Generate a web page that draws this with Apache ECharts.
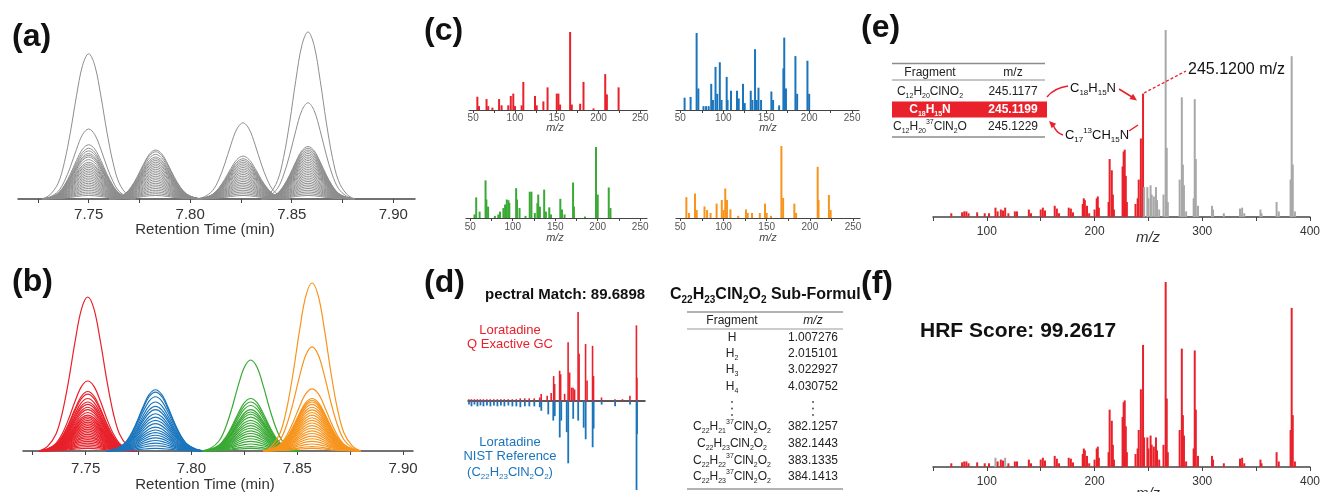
<!DOCTYPE html>
<html>
<head>
<meta charset="utf-8">
<script src="https://cdn.jsdelivr.net/npm/echarts@6/dist/echarts.min.js"></script>
<style>
html,body{margin:0;padding:0;background:#fff;}
#chart{width:1323px;height:492px;}
</style>
</head>
<body>
<div id="chart"></div>
<script>
// colours
var red = '#e8212b', blue = '#1b75bc', green = '#3aa935', orange = '#f7941d';
var grayTrace = '#8e8e8e', grayBar = '#a8a8a8';
var FONT = 'Liberation Sans';

// ---- (a)/(b) chromatograms ----
var rtTicks = [7.725, 7.75, 7.775, 7.80, 7.825, 7.85, 7.875, 7.90];
var rtLabels = [7.75, 7.80, 7.85, 7.90];
// peak shape (offset in min, relative height)
var peakOffsets = [-0.023, -0.019, -0.015, -0.012, -0.009, -0.006, -0.003, 0, 0.003, 0.006, 0.009, 0.012, 0.015, 0.019, 0.023];
var peakShape = [0, 0.03, 0.11, 0.25, 0.46, 0.71, 0.92, 1, 0.92, 0.71, 0.46, 0.25, 0.11, 0.03, 0];
// (a) raw, apex times and trace heights
var aCenters = [7.750, 7.783, 7.826, 7.858];
var aPeak1 = [83, 40, 31, 29, 27.5, 26, 25, 24, 22.5, 21, 20, 19, 18, 17, 16, 15, 14, 13, 12, 11, 10, 9, 8, 7, 6, 5, 4, 3, 2];
var aPeak2 = [28, 27, 25.5, 24, 23, 22, 21, 20, 19, 18, 17, 16, 15, 14, 13, 12, 11, 10, 9, 8, 7, 6, 5, 4, 3, 2];
var aPeak3 = [43.5, 24.5, 23, 22, 21, 20, 19, 18, 17, 16, 15, 14, 13, 12, 11, 10, 9, 8, 7, 6, 5, 4, 3, 2];
var aPeak4 = [95.5, 55, 30, 29, 28, 27, 26, 25, 24, 23, 22, 21, 20, 19, 18, 17, 16, 15, 14, 13, 12, 11, 10, 9, 8, 7, 6, 5, 4, 3, 2];
// (b) deconvolved
var bCenters = [7.751, 7.783, 7.828, 7.857];
var bRed = [88, 40, 34, 32.5, 30, 28, 26.7, 25, 23.6, 22, 20.5, 19.5, 18.5, 17.5, 16.5, 15.5, 14.5, 13.5, 12.5, 11.5, 10.5, 9.5, 8.5, 7.5, 6.5, 5.5, 4.5, 3.5, 2.5, 1.5];
var bBlue = [35, 33.7, 31, 28, 25.5, 23.6, 21.3, 19.4, 17.5, 15.6, 13.7, 12, 10.5, 9, 7.5, 6, 4.5, 3, 1.5];
var bGreen = [52, 30, 28, 26, 23.6, 22.3, 21, 19.4, 17.5, 16, 14.5, 13, 11.5, 10, 8.5, 7, 5.5, 4, 2.5, 1.5];
var bOrange = [96, 59.5, 35.5, 30, 29, 28, 26.7, 25, 23.5, 22, 20.5, 19, 17.5, 16, 14.5, 13, 11.5, 10, 8.5, 7, 5.5, 4, 2.5, 1.5];

// ---- (c) component spectra [m/z, rel. intensity] ----
var mzTicksC = [50, 75, 100, 125, 150, 175, 200, 225, 250];
var mzLabelsC = [50, 100, 150, 200, 250];
var cRed = [[55,0.17],[57,0.05],[66,0.14],[68,0.05],[73,0.03],[81,0.14],[84,0.06],[92,0.06],[95,0.18],[98,0.21],[100,0.05],[108,0.06],[110,0.36],[124,0.18],[126,0.06],[134,0.11],[139,0.29],[150,0.21],[152,0.21],[154,0.07],[166,1.0],[168,0.07],[178,0.08],[182,0.36],[194,0.02],[208,0.46],[210,0.2],[224,0.29]];
var cBlue = [[55,0.16],[62,0.17],[69,1.0],[71,0.28],[77,0.05],[80,0.05],[83,0.05],[86,0.34],[88,0.13],[91,0.56],[93,0.21],[96,0.62],[98,0.13],[104,0.43],[105,0.13],[109,0.25],[116,0.25],[118,0.15],[123,0.34],[125,0.09],[132,0.25],[134,0.13],[137,0.79],[139,0.13],[141,0.29],[144,0.13],[156,0.24],[158,0.13],[165,0.06],[170,0.54],[171,0.94],[173,0.28],[184,0.7],[186,0.21],[198,0.64],[200,0.21]];
var cGreen = [[55,0.05],[57,0.29],[61,0.09],[68,0.53],[69,0.26],[71,0.16],[79,0.03],[83,0.05],[85,0.09],[89,0.14],[91,0.19],[93,0.26],[95,0.25],[96,0.21],[104,0.42],[105,0.26],[108,0.14],[115,0.03],[120,0.37],[122,0.37],[126,0.07],[129,0.21],[130,0.33],[132,0.16],[137,0.4],[139,0.09],[143,0.15],[145,0.05],[156,0.27],[158,0.12],[161,0.05],[171,0.5],[172,0.16],[185,0.02],[198,1.0],[200,0.33],[213,0.43],[215,0.14]];
var cOrange = [[57,0.29],[60,0.07],[67,0.34],[69,0.11],[78,0.16],[81,0.11],[85,0.07],[92,0.2],[98,0.25],[100,0.11],[102,0.41],[104,0.25],[108,0.12],[117,0.03],[126,0.12],[128,0.07],[133,0.07],[142,0.07],[148,0.2],[150,0.07],[155,0.03],[167,1.0],[169,0.28],[182,0.2],[184,0.07],[209,0.71],[210,0.25],[222,0.32],[224,0.11]];

// ---- (d) mirror plot ----
var dQExactive = [[47,0.02],[52,0.02],[58,0.02],[64,0.02],[70,0.02],[76,0.02],[83,0.02],[90,0.02],[97,0.02],[104,0.02],[111,0.02],[118,0.02],[126,0.02],[134,0.02],[142,0.02],[150,0.03],[159,0.03],[168,0.03],[178,0.03],[189,0.04],[192,0.08],[204,0.06],[212,0.09],[217,0.28],[219,0.19],[229,0.34],[231,0.3],[239,0.08],[246,0.66],[249,0.32],[253,0.15],[256,0.15],[259,0.13],[266,1.0],[268,0.53],[281,0.64],[284,0.23],[295,0.62],[297,0.28],[313,0.04],[340,0.02],[355,0.02],[370,0.06],[383,0.85],[384,0.26]];
var dNist = [[47,0.04],[52,0.06],[58,0.04],[64,0.06],[70,0.05],[76,0.06],[83,0.05],[90,0.06],[97,0.05],[104,0.06],[111,0.05],[118,0.06],[126,0.05],[134,0.06],[142,0.06],[150,0.07],[159,0.06],[168,0.06],[178,0.06],[189,0.07],[192,0.11],[206,0.15],[216,0.22],[219,0.17],[229,0.41],[232,0.22],[243,0.35],[246,0.7],[256,0.2],[266,0.22],[277,0.3],[281,0.43],[295,0.52],[297,0.31],[313,0.04],[340,0.06],[370,0.04],[383,1.0],[384,0.37]];
var dTableTop = [['H','1.007276'],['H_2','2.015101'],['H_3','3.022927'],['H_4','4.030752']];
var dTableBottom = [['C_22H_21^37ClN_2O_2','382.1257'],['C_22H_23ClN_2O_2','382.1443'],['C_22H_22^37ClN_2O_2','383.1335'],['C_22H_23^37ClN_2O_2','384.1413']];

// ---- (e)/(f) Loratadine spectrum ----
var mzTicksE = [50, 100, 150, 200, 250, 300, 350, 400];
var mzLabelsE = [100, 200, 300, 400];
var spectrum = [[67,0.02],[77,0.025],[79,0.03],[81,0.03],[83,0.02],[91,0.025],[98,0.02],[102,0.02],[108,0.05],[110,0.03],[113,0.04],[115,0.035],[117,0.05],[120,0.02],[126,0.03],[128,0.03],[139,0.04],[141,0.02],[150,0.04],[152,0.05],[154,0.035],[163,0.06],[165,0.045],[167,0.02],[176,0.05],[178,0.045],[180,0.025],[189,0.07],[190,0.1],[191,0.09],[193,0.06],[195,0.02],[200,0.04],[202,0.1],[203,0.11],[204,0.05],[213,0.08],[214,0.31],[216,0.25],[217,0.12],[218,0.04],[226,0.27],[227,0.35],[228,0.36],[229,0.22],[230,0.08],[238,0.07],[240,0.1],[241,0.2],[243,0.42],[245,0.66],[246,0.16],[249,0.16],[250,0.1],[252,0.17],[253,0.12],[255,0.11],[257,0.16],[258,0.09],[260,0.04],[264,0.12],[266,1.0],[267,0.37],[268,0.08],[279,0.2],[281,0.64],[282,0.28],[283,0.17],[285,0.03],[292,0.1],[293,0.63],[294,0.31],[296,0.06],[309,0.06],[310,0.04],[320,0.02],[335,0.045],[337,0.05],[339,0.02],[354,0.04],[355,0.02],[369,0.08],[371,0.03],[382,0.2],[383,0.86],[384,0.28],[386,0.03]];
var eExplainedUpTo = 245.12;   // red part in (e)
var fUnexplained = [108, 117]; // grey in (f)
var eTable = [['C_12H_20ClNO_2','245.1177'],['C_18H_15N','245.1199'],['C_12H_20^37ClN_2O','245.1229']];

// ---------------------------------------------------------------
var chart = echarts.init(document.getElementById('chart'));

var grids = [
    {left: 18, top: 24, width: 397, height: 175},   // a
    {left: 23, top: 276, width: 390, height: 175},  // b
    {left: 469, top: 32, width: 178, height: 78},   // c
    {left: 676, top: 33, width: 183, height: 77},
    {left: 466, top: 147, width: 181, height: 71},
    {left: 676, top: 146, width: 184, height: 72},
    {left: 468, top: 312, width: 177, height: 178}, // d
    {left: 933, top: 30, width: 377, height: 187},  // e
    {left: 933, top: 282, width: 377, height: 185}  // f
];

function xAx(gi, min, max, ticks, labels, o) {
    return {
        type: 'value', gridIndex: gi, min: min, max: max,
        splitLine: {show: false},
        axisLine: {show: true, onZero: true, lineStyle: {color: o.axisColor || '#444', width: o.lineWidth || 1.5}},
        axisTick: {show: !!ticks, customValues: ticks || [], length: o.tickLen || 4, lineStyle: {color: '#444', width: 1}},
        axisLabel: {
            show: !!labels, customValues: labels || [], margin: o.margin,
            fontFamily: FONT, fontSize: o.fontSize, color: o.labelColor || '#333',
            formatter: function (v) { return o.fixed ? v.toFixed(o.fixed) : String(v); }
        }
    };
}
var xAxes = [
    xAx(0, 7.7152, 7.9107, rtTicks, rtLabels, {fontSize: 15, margin: 8, fixed: 2}),
    xAx(1, 7.7204, 7.9047, rtTicks, rtLabels, {fontSize: 15, margin: 10, fixed: 2}),
    xAx(2, 45, 258, mzTicksC, mzLabelsC, {fontSize: 10, margin: 3, tickLen: 3, lineWidth: 1.2, labelColor: '#555'}),
    xAx(3, 45, 258, mzTicksC, mzLabelsC, {fontSize: 10, margin: 3, tickLen: 3, lineWidth: 1.2, labelColor: '#555'}),
    xAx(4, 45, 258, mzTicksC, mzLabelsC, {fontSize: 10, margin: 4, tickLen: 3, lineWidth: 1.2, labelColor: '#555'}),
    xAx(5, 45, 258, mzTicksC, mzLabelsC, {fontSize: 10, margin: 4, tickLen: 3, lineWidth: 1.2, labelColor: '#555'}),
    xAx(6, 45, 400, null, null, {axisColor: '#222', lineWidth: 1.5}),
    xAx(7, 50, 400, mzTicksE, mzLabelsE, {fontSize: 12, margin: 9, tickLen: 4}),
    xAx(8, 50, 400, mzTicksE, mzLabelsE, {fontSize: 12, margin: 9, tickLen: 4})
];
var yRanges = [[0,100],[0,100],[0,1],[0,1],[0,1],[0,1],[-1,1],[0,1],[0,1]];
var yAxes = yRanges.map(function (r, i) {
    return {type: 'value', gridIndex: i, min: r[0], max: r[1], show: false};
});

var series = [];
function addTraces(xi, centers, peaks, colors, width) {
    centers.forEach(function (c, p) {
        peaks[p].forEach(function (h) {
            series.push({
                type: 'line', xAxisIndex: xi, yAxisIndex: xi, smooth: 0.35, symbol: 'none', silent: true,
                lineStyle: {color: colors[p], width: width},
                data: peakOffsets.map(function (o, i) { return [c + o, h * peakShape[i]]; })
            });
        });
    });
}
addTraces(0, aCenters, [aPeak1, aPeak2, aPeak3, aPeak4], [grayTrace, grayTrace, grayTrace, grayTrace], 1);
addTraces(1, bCenters, [bRed, bBlue, bGreen, bOrange], [red, blue, green, orange], 1.2);

function addSpectrum(xi, peaks, color, sign, bw) {
    series.push({
        type: 'bar', xAxisIndex: xi, yAxisIndex: xi, barWidth: bw, barGap: '-100%', silent: true,
        itemStyle: {color: color},
        data: peaks.map(function (p) { return [p[0], sign * p[1]]; })
    });
}
addSpectrum(2, cRed, red, 1, 2);
addSpectrum(3, cBlue, blue, 1, 2);
addSpectrum(4, cGreen, green, 1, 2);
addSpectrum(5, cOrange, orange, 1, 2);
addSpectrum(6, dQExactive, red, 1, 1.6);
addSpectrum(6, dNist, blue, -1, 1.8);
addSpectrum(7, spectrum, function (p) { return p.value[0] <= eExplainedUpTo ? red : grayBar; }, 1, 2);
addSpectrum(8, spectrum, function (p) { return fUnexplained.indexOf(p.value[0]) >= 0 ? grayBar : red; }, 1, 2);

// ---- text helpers ----
function txt(x, y, s, o) {
    o = o || {};
    var size = o.size || 12, col = o.color || '#222', wt = o.weight || 'normal';
    var sub = Math.round(size * 0.6);
    return {
        type: 'text', x: x, y: y, silent: true, z: 100,
        style: {
            text: s.replace(/([_^])(\d+)/g, function (m, k, d) { return '{' + (k == '_' ? 'sb' : 'sp') + '|' + d + '}'; }),
            fill: col, fontSize: size, fontFamily: FONT, fontWeight: wt, fontStyle: o.italic ? 'italic' : 'normal',
            lineHeight: size + 4, align: o.align || 'center', verticalAlign: 'middle',
            rich: {
                sb: {fill: col, fontSize: sub, fontFamily: FONT, fontWeight: wt, lineHeight: sub, verticalAlign: 'bottom'},
                sp: {fill: col, fontSize: sub, fontFamily: FONT, fontWeight: wt, lineHeight: sub, verticalAlign: 'top'}
            }
        }
    };
}
function hline(x1, x2, y, w, col) {
    return {type: 'line', silent: true, z: 90, shape: {x1: x1, y1: y, x2: x2, y2: y}, style: {stroke: col || '#8c8c8c', lineWidth: w}};
}
function arrowHead(tx, ty, dx, dy) {
    var L = Math.sqrt(dx * dx + dy * dy); dx /= L; dy /= L;
    var s = 7, w = 3.2;
    return {type: 'polygon', silent: true, z: 95,
        shape: {points: [[tx, ty], [tx - dx * s - dy * w, ty - dy * s + dx * w], [tx - dx * s + dy * w, ty - dy * s - dx * w]]},
        style: {fill: red}};
}

var g = [];
// panel letters
[['(a)', 12, 37], ['(b)', 12, 282], ['(c)', 424, 31], ['(d)', 424, 283], ['(e)', 861, 28], ['(f)', 861, 284]].forEach(function (l) {
    g.push(txt(l[1], l[2], l[0], {size: 32, weight: 'bold', align: 'left', color: '#111'}));
});
// axis titles
g.push(txt(205, 230, 'Retention Time (min)', {size: 15, color: '#333'}));
g.push(txt(205, 485, 'Retention Time (min)', {size: 15, color: '#333'}));
[[555, 128], [768, 128], [555, 238], [768, 238]].forEach(function (p) {
    g.push(txt(p[0], p[1], 'm/z', {size: 11, italic: true, color: '#444'}));
});
g.push(txt(1148, 238, 'm/z', {size: 15, italic: true, color: '#333'}));
g.push(txt(1148, 494, 'm/z', {size: 15, italic: true, color: '#333'}));

// (d) labels and table
g.push(txt(485, 295, 'pectral Match: 89.6898', {size: 15, weight: 'bold', align: 'left', color: '#111'}));
g.push(txt(670, 295, 'C_22H_23ClN_2O_2 Sub-Formul', {size: 16, weight: 'bold', align: 'left', color: '#111'}));
g.push(txt(510, 330, 'Loratadine', {size: 13, color: red}));
g.push(txt(510, 344, 'Q Exactive GC', {size: 13, color: red}));
g.push(txt(510, 442, 'Loratadine', {size: 13, color: blue}));
g.push(txt(510, 456, 'NIST Reference', {size: 13, color: blue}));
g.push(txt(510, 472, '(C_22H_23ClN_2O_2)', {size: 13, color: blue}));
g.push(hline(687, 843, 312, 1.5, '#999'));
g.push(hline(687, 843, 329, 1, '#999'));
g.push(hline(687, 843, 489, 1.5, '#999'));
g.push(txt(732, 321, 'Fragment', {size: 12}));
g.push(txt(813, 321, 'm/z', {size: 12, italic: true}));
var dTopY = [338, 354, 370, 387], dBotY = [427, 444, 461, 477];
dTableTop.forEach(function (r, i) {
    g.push(txt(732, dTopY[i], r[0], {size: 12}));
    g.push(txt(813, dTopY[i], r[1], {size: 12}));
});
dTableBottom.forEach(function (r, i) {
    g.push(txt(732, dBotY[i], r[0], {size: 12}));
    g.push(txt(813, dBotY[i], r[1], {size: 12}));
});
[402, 408.5, 415].forEach(function (y) {
    g.push({type: 'circle', silent: true, shape: {cx: 732, cy: y, r: 0.9}, style: {fill: '#444'}});
    g.push({type: 'circle', silent: true, shape: {cx: 813, cy: y, r: 0.9}, style: {fill: '#444'}});
});

// (e) table
g.push(hline(892, 1045, 63.5, 1.5));
g.push(hline(892, 1045, 80, 1));
g.push(hline(892, 1045, 137, 1.5));
g.push({type: 'rect', silent: true, z: 80, shape: {x: 892, y: 101.5, width: 155, height: 16}, style: {fill: red}});
g.push(txt(930, 72.5, 'Fragment', {size: 12}));
g.push(txt(1013, 72.5, 'm/z', {size: 12}));
var eRowY = [91.5, 109.5, 127];
eTable.forEach(function (r, i) {
    var c = i == 1 ? '#fff' : '#222', w = i == 1 ? 'bold' : 'normal';
    g.push(txt(930, eRowY[i], r[0], {size: 12, color: c, weight: w}));
    g.push(txt(1013, eRowY[i], r[1], {size: 12, color: c, weight: w}));
});
// (e) annotations
g.push(txt(1093, 88, 'C_18H_15N', {size: 13, color: '#111'}));
g.push(txt(1097, 135, 'C_17^13CH_15N', {size: 13, color: '#111'}));
g.push(txt(1188, 70, '245.1200 m/z', {size: 16, align: 'left', color: '#111'}));
g.push({type: 'bezierCurve', silent: true, z: 95, shape: {x1: 1047, y1: 97, x2: 1068, y2: 86, cpx1: 1054, cpy1: 88}, style: {stroke: red, lineWidth: 1.5, fill: null}});
g.push({type: 'line', silent: true, z: 95, shape: {x1: 1119, y1: 89, x2: 1132, y2: 97}, style: {stroke: red, lineWidth: 1.5}});
g.push(arrowHead(1137, 100.5, 1, 0.7));
g.push({type: 'line', silent: true, z: 95, shape: {x1: 1138, y1: 125, x2: 1129, y2: 131}, style: {stroke: red, lineWidth: 1.5}});
g.push({type: 'bezierCurve', silent: true, z: 95, shape: {x1: 1063, y1: 135, x2: 1053, y2: 124.5, cpx1: 1056, cpy1: 133}, style: {stroke: red, lineWidth: 1.5, fill: null}});
g.push(arrowHead(1049, 121, -0.8, -0.8));
g.push({type: 'line', silent: true, z: 95, shape: {x1: 1144, y1: 93, x2: 1186, y2: 71}, style: {stroke: red, lineWidth: 1.3, lineDash: [3, 2]}});

// (f)
g.push(txt(920, 331, 'HRF Score: 99.2617', {size: 21, weight: 'bold', align: 'left', color: '#111'}));

chart.setOption({
    animation: false,
    backgroundColor: '#fff',
    grid: grids,
    xAxis: xAxes,
    yAxis: yAxes,
    series: series,
    graphic: g
});
</script>
</body>
</html>
